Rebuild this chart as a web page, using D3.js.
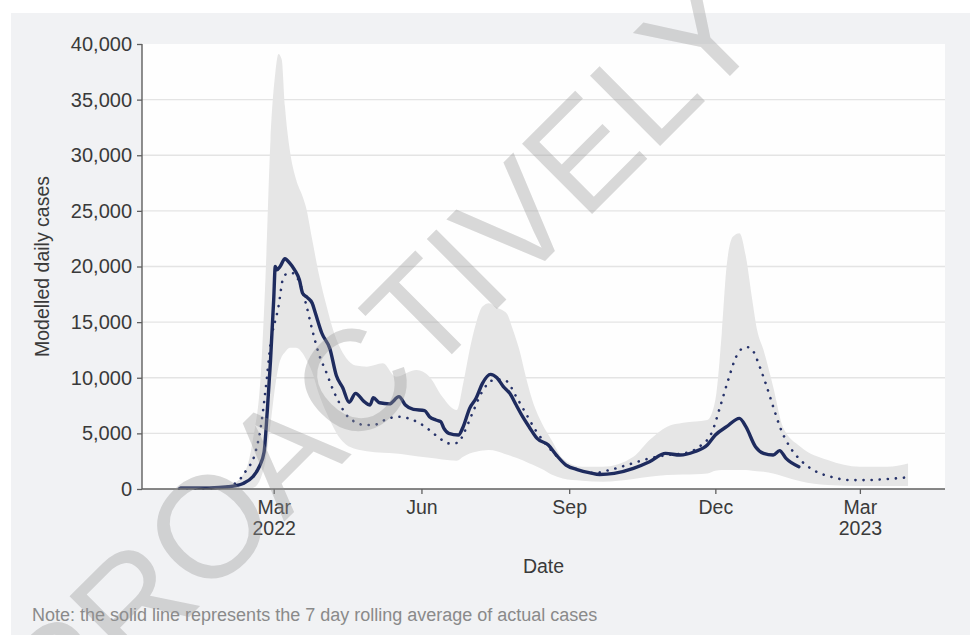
<!DOCTYPE html>
<html>
<head>
<meta charset="utf-8">
<script src="https://cdn.jsdelivr.net/npm/d3@7"></script>
<style>
  html, body { margin: 0; padding: 0; background: #ffffff; }
  svg { display: block; }
  text { font-family: "Liberation Sans", Arial, Helvetica, sans-serif; }
</style>
</head>
<body>
<svg id="chart" width="970" height="635"></svg>
<script>
// ---------------- DATA ----------------
const actualDates = ["2022-01-02","2022-01-20","2022-02-01","2022-02-10","2022-02-16","2022-02-20","2022-02-23","2022-02-25","2022-02-27","2022-03-01","2022-03-02","2022-03-03","2022-03-05","2022-03-08","2022-03-11","2022-03-14","2022-03-17","2022-03-19","2022-03-22","2022-03-25","2022-03-27","2022-03-31","2022-04-05","2022-04-09","2022-04-13","2022-04-17","2022-04-21","2022-04-26","2022-04-30","2022-05-02","2022-05-06","2022-05-12","2022-05-18","2022-05-22","2022-05-27","2022-06-03","2022-06-06","2022-06-10","2022-06-13","2022-06-15","2022-06-18","2022-06-24","2022-06-27","2022-07-01","2022-07-05","2022-07-09","2022-07-14","2022-07-18","2022-07-22","2022-07-26","2022-07-30","2022-08-03","2022-08-07","2022-08-12","2022-08-19","2022-08-24","2022-08-30","2022-09-06","2022-09-14","2022-09-20","2022-09-29","2022-10-11","2022-10-21","2022-10-31","2022-11-09","2022-11-18","2022-11-26","2022-12-01","2022-12-08","2022-12-16","2022-12-20","2022-12-26","2022-12-31","2023-01-06","2023-01-10","2023-01-14","2023-01-22"];
const actualCases = [100,100,200,500,1100,2000,3300,7000,11500,17000,20000,19700,20000,20700,20300,19700,18800,17600,17200,16700,15800,14000,12600,10200,9100,7800,8600,7900,7550,8200,7750,7650,8300,7550,7150,7050,6500,6200,6050,5450,5000,4850,5600,7250,8150,9500,10300,10000,9200,8600,7550,6500,5600,4550,3950,3050,2150,1750,1450,1300,1400,1850,2450,3200,3050,3350,3950,4850,5600,6350,5600,3800,3200,3050,3450,2750,2000];

const modelDates = ["2022-01-01","2022-01-27","2022-02-06","2022-02-12","2022-02-17","2022-02-21","2022-02-24","2022-02-27","2022-03-04","2022-03-07","2022-03-10","2022-03-13","2022-03-18","2022-03-21","2022-03-25","2022-03-29","2022-04-03","2022-04-07","2022-04-11","2022-04-15","2022-04-21","2022-04-27","2022-05-02","2022-05-10","2022-05-17","2022-05-25","2022-05-31","2022-06-06","2022-06-12","2022-06-18","2022-06-24","2022-06-27","2022-07-03","2022-07-09","2022-07-15","2022-07-20","2022-07-24","2022-07-30","2022-08-05","2022-08-11","2022-08-16","2022-08-22","2022-08-29","2022-09-07","2022-09-17","2022-09-26","2022-10-08","2022-10-21","2022-11-01","2022-11-11","2022-11-21","2022-11-29","2022-12-04","2022-12-09","2022-12-14","2022-12-18","2022-12-21","2022-12-24","2022-12-29","2023-01-02","2023-01-06","2023-01-11","2023-01-17","2023-01-23","2023-01-31","2023-02-11","2023-02-23","2023-03-06","2023-03-18","2023-03-31"];
const modelCases = [30,100,600,1700,3000,5600,9000,13000,16400,19000,19400,19400,18200,16700,14300,12200,10400,8900,7700,6700,6000,5750,5750,6250,6500,6300,5900,5300,4600,4100,4150,4900,6900,8800,9750,9850,9700,8300,6800,5300,4300,3300,2300,1700,1450,1700,2200,2750,3050,3200,3800,5150,7400,9800,11900,12650,12750,12500,10850,9200,7400,5300,3650,2600,1700,1100,800,800,900,1050];

const bandDates = ["2022-01-01","2022-01-20","2022-02-01","2022-02-11","2022-02-16","2022-02-21","2022-02-24","2022-02-27","2022-03-02","2022-03-04","2022-03-06","2022-03-08","2022-03-11","2022-03-15","2022-03-19","2022-03-21","2022-03-25","2022-03-29","2022-04-03","2022-04-07","2022-04-11","2022-04-15","2022-04-21","2022-04-28","2022-05-08","2022-05-16","2022-05-29","2022-06-06","2022-06-14","2022-06-23","2022-06-27","2022-07-01","2022-07-05","2022-07-09","2022-07-13","2022-07-18","2022-07-24","2022-07-28","2022-08-01","2022-08-05","2022-08-09","2022-08-15","2022-08-21","2022-08-28","2022-09-09","2022-09-22","2022-10-11","2022-10-21","2022-11-01","2022-11-11","2022-11-26","2022-12-01","2022-12-05","2022-12-08","2022-12-12","2022-12-16","2022-12-20","2022-12-24","2022-12-27","2022-12-31","2023-01-06","2023-01-12","2023-01-23","2023-02-09","2023-03-01","2023-03-18","2023-03-31"];
const bandLower = [0,0,10,40,100,1000,2600,5800,9300,11000,11900,12300,12700,12700,12200,11700,10500,8600,6800,5600,4600,4000,3600,3400,3250,3200,2950,2800,2650,2550,2900,3200,3350,3450,3500,3400,3100,2900,2700,2450,2200,1800,1300,950,750,650,900,1100,1250,1300,1400,1650,1700,1700,1700,1700,1700,1650,1600,1550,1400,1150,700,350,270,270,280];
const bandUpper = [30,80,300,1500,4400,10400,19400,31400,37400,39100,38600,34400,30500,27800,26300,25400,22400,19400,16400,14300,12800,11800,11100,11000,11300,10100,10700,10100,8300,7100,9500,12500,14900,16400,16700,16300,15800,14300,12500,10100,8000,5900,4400,2750,2000,2000,2900,4400,5600,5950,6200,8000,14000,20000,22700,23000,20900,17000,14300,12500,9200,5600,3800,2600,2000,2000,2300];

const xDomain = ["2021-12-09","2023-04-23"];
const yTicks = [0,5000,10000,15000,20000,25000,30000,35000,40000];
const xTickDates = ["2022-03-01","2022-06-01","2022-09-01","2022-12-01","2023-03-01"];
const xTickLabels = [["Mar","2022"],["Jun"],["Sep"],["Dec"],["Mar","2023"]];

const yTitle = "Modelled daily cases";
const xTitle = "Date";
const note = "Note: the solid line represents the 7 day rolling average of actual cases";
const watermark = "PROACTIVELY";

// ---------------- LAYOUT ----------------
const W = 970, H = 635;
const plot = { left: 142, right: 945, top: 44, bottom: 489 };
const parse = d3.timeParse("%Y-%m-%d");

const svg = d3.select("#chart");

// outer panel background
svg.append("rect").attr("x", 11).attr("y", 13).attr("width", W - 11).attr("height", H - 13).attr("fill", "#f1f2f4");
// plot background
svg.append("rect").attr("x", plot.left).attr("y", plot.top)
  .attr("width", plot.right - plot.left).attr("height", plot.bottom - plot.top).attr("fill", "#fefefe");

const x = d3.scaleTime().domain(xDomain.map(parse)).range([plot.left, plot.right]);
const y = d3.scaleLinear().domain([0, 40000]).range([plot.bottom, plot.top]);

// gridlines
svg.append("g").selectAll("line")
  .data(yTicks.filter(v => v > 0 && v < 40000))
  .join("line")
  .attr("x1", plot.left).attr("x2", plot.right)
  .attr("y1", d => y(d)).attr("y2", d => y(d))
  .attr("stroke", "#e4e4e4").attr("stroke-width", 1.3);

// band
const band = bandDates.map((d, i) => ({ date: parse(d), lo: bandLower[i], hi: bandUpper[i] }));
svg.append("path")
  .datum(band)
  .attr("fill", "#e6e6e6")
  .attr("d", d3.area().x(d => x(d.date)).y0(d => y(d.lo)).y1(d => y(d.hi)).curve(d3.curveMonotoneX));

// model dotted line
const model = modelDates.map((d, i) => ({ date: parse(d), v: modelCases[i] }));
svg.append("path")
  .datum(model)
  .attr("fill", "none")
  .attr("stroke", "#27336a")
  .attr("stroke-width", 2.6)
  .attr("stroke-linecap", "round")
  .attr("stroke-dasharray", "0.1 8")
  .attr("d", d3.line().x(d => x(d.date)).y(d => y(d.v)).curve(d3.curveMonotoneX));

// actual solid line
const actual = actualDates.map((d, i) => ({ date: parse(d), v: actualCases[i] }));
svg.append("path")
  .datum(actual)
  .attr("fill", "none")
  .attr("stroke", "#1e2b5e")
  .attr("stroke-width", 3.4)
  .attr("stroke-linejoin", "round")
  .attr("stroke-linecap", "round")
  .attr("d", d3.line().x(d => x(d.date)).y(d => y(d.v)).curve(d3.curveMonotoneX));

// y axis
const yAxis = svg.append("g").attr("transform", `translate(${plot.left},0)`)
  .call(d3.axisLeft(y).tickValues(yTicks).tickFormat(d3.format(",")).tickSize(5).tickPadding(5));
yAxis.select(".domain").attr("stroke", "#5f5f5f").attr("stroke-width", 1.4).attr("d", `M0,${plot.top}V${plot.bottom}`);
yAxis.selectAll(".tick line").attr("stroke", "#5f5f5f").attr("stroke-width", 1.3);
yAxis.selectAll(".tick text").attr("fill", "#3a3a3a").style("font-size", "20px")
  .style("font-family", "'Liberation Sans', Arial, sans-serif");

// x axis
const xAxis = svg.append("g").attr("transform", `translate(0,${plot.bottom})`)
  .call(d3.axisBottom(x).tickValues(xTickDates.map(parse)).tickFormat("").tickSize(5));
xAxis.select(".domain").attr("stroke", "#5f5f5f").attr("stroke-width", 1.4).attr("d", `M${plot.left},0H${plot.right}`);
xAxis.selectAll(".tick line").attr("stroke", "#5f5f5f").attr("stroke-width", 1.3);
xAxis.selectAll(".tick").each(function(d, i) {
  const t = d3.select(this).append("text")
    .attr("fill", "#3a3a3a")
    .attr("text-anchor", "middle")
    .style("font-size", "19.5px")
    .style("font-family", "'Liberation Sans', Arial, sans-serif");
  xTickLabels[i].forEach((s, j) => {
    t.append("tspan").attr("x", 0).attr("y", 25 + j * 21).text(s);
  });
});

// axis titles
svg.append("text")
  .attr("transform", `translate(49,${(plot.top + plot.bottom) / 2}) rotate(-90)`)
  .attr("text-anchor", "middle")
  .attr("fill", "#3a3a3a")
  .style("font-size", "19.5px")
  .text(yTitle);

svg.append("text")
  .attr("x", (plot.left + plot.right) / 2).attr("y", 573)
  .attr("text-anchor", "middle")
  .attr("fill", "#3a3a3a")
  .style("font-size", "19.5px")
  .text(xTitle);

// note
svg.append("text")
  .attr("x", 32).attr("y", 621)
  .attr("fill", "#8a8a8a")
  .style("font-size", "18px")
  .text(note);

// watermark
svg.append("text")
  .attr("transform", "translate(416,390) rotate(-45)")
  .attr("text-anchor", "middle")
  .attr("fill", "rgb(150,150,150)")
  .attr("fill-opacity", 0.36)
  .style("font-size", "144px")
  .text(watermark);
</script>
</body>
</html>
